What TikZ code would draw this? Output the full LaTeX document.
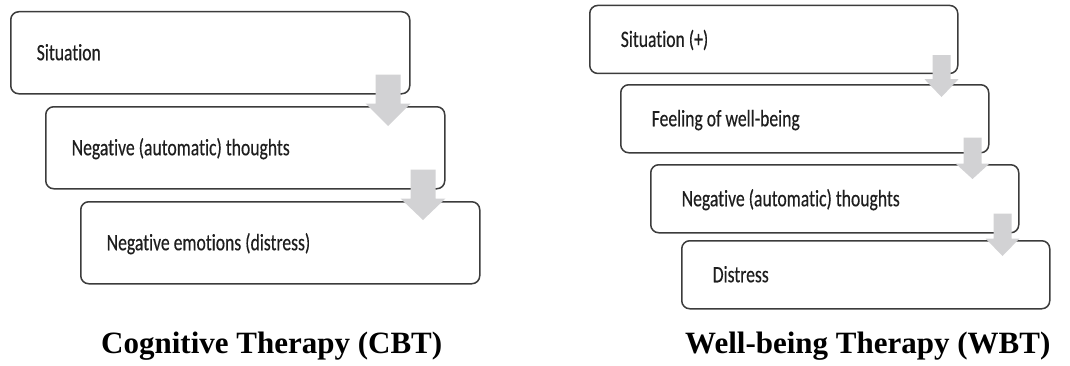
\documentclass[tikz,border=0pt]{standalone}
\usepackage{fontspec}
\usetikzlibrary{calc}
\newfontfamily\boxfont[FakeStretch=0.75, FakeBold=0.3, Ligatures=NoCommon]{Carlito}
\newfontfamily\capfont{Liberation Serif}
\newcommand\boxtextfont{\boxfont\fontsize{23.5}{27}\selectfont}
\newcommand\tightspaces{\spaceskip=4pt\relax}
\definecolor{boxline}{RGB}{60,60,60}
\definecolor{arrowgray}{RGB}{210,210,212}
\definecolor{boxtext}{RGB}{30,30,30}

% Block arrow from the bottom right of #1 down into #2.
% #3 half shaft width, #4 half head width, #5 start above #1's bottom,
% #6 head base below #1's bottom, #7 tip below #2's top
\newcommand\blockarrow[7]{%
  \fill[arrowgray] let \p1=(#1.south east), \p2=(#2.north) in
    (\x1-#4pt-#3pt, \y1+#5pt) -- (\x1-#4pt+#3pt, \y1+#5pt)
    -- (\x1-#4pt+#3pt, \y1-#6pt) -- (\x1, \y1-#6pt)
    -- (\x1-#4pt, \y2-#7pt)
    -- (\x1-2*#4pt, \y1-#6pt) -- (\x1-#4pt-#3pt, \y1-#6pt) -- cycle;
}

\tikzset{
  stepbox/.style={draw=boxline, line width=1.5pt, fill=white,
    rounded corners=8pt, anchor=north west, align=left,
    text=boxtext, font=\boxtextfont,
    execute at begin node=\tightspaces,
    text height=15pt, text depth=0pt},
  leftbox/.style={stepbox, minimum width=399pt, minimum height=82pt,
    inner xsep=26pt, text width=347pt},
  rightbox/.style={stepbox, minimum width=368pt, minimum height=68pt,
    inner xsep=31pt, text width=306pt},
  caption/.style={anchor=base west, inner sep=0pt,
    font=\capfont\bfseries\fontsize{31}{36}\selectfont}
}

\begin{document}
\begin{tikzpicture}[x=1pt, y=1pt]
  \useasboundingbox (0,0) rectangle (1070,365);

  % Cognitive therapy chain
  \node[leftbox] (c1) at (10,354) {Situation};
  \node[leftbox] (c2) at (45,259) {Negative (automatic) thoughts};
  \node[leftbox] (c3) at (80,164) {Negative emotions (distress)};
  \blockarrow{c1}{c2}{12.5}{22.5}{20}{9}{20}
  \blockarrow{c2}{c3}{12.5}{22.5}{20}{9}{19}

  % Well-being therapy chain
  \node[rightbox] (w1) at (589,360.3) {Situation (+)};
  \node[rightbox] (w2) at (620,281) {Feeling of well-being};
  \node[rightbox] (w3) at (650,201) {Negative (automatic) thoughts};
  \node[rightbox] (w4) at (681,125) {Distress};
  \blockarrow{w1}{w2}{9}{17}{19}{5}{13}
  \blockarrow{w2}{w3}{9}{17}{16}{10}{15}
  \blockarrow{w3}{w4}{9}{17}{20}{5}{16}

  % Titles
  \node[caption] (cbt) at (101,12) {Cognitive Therapy (CBT)};
  \node[caption] (wbt) at (685,12) {Well-being Therapy (WBT)};
\end{tikzpicture}
\end{document}
